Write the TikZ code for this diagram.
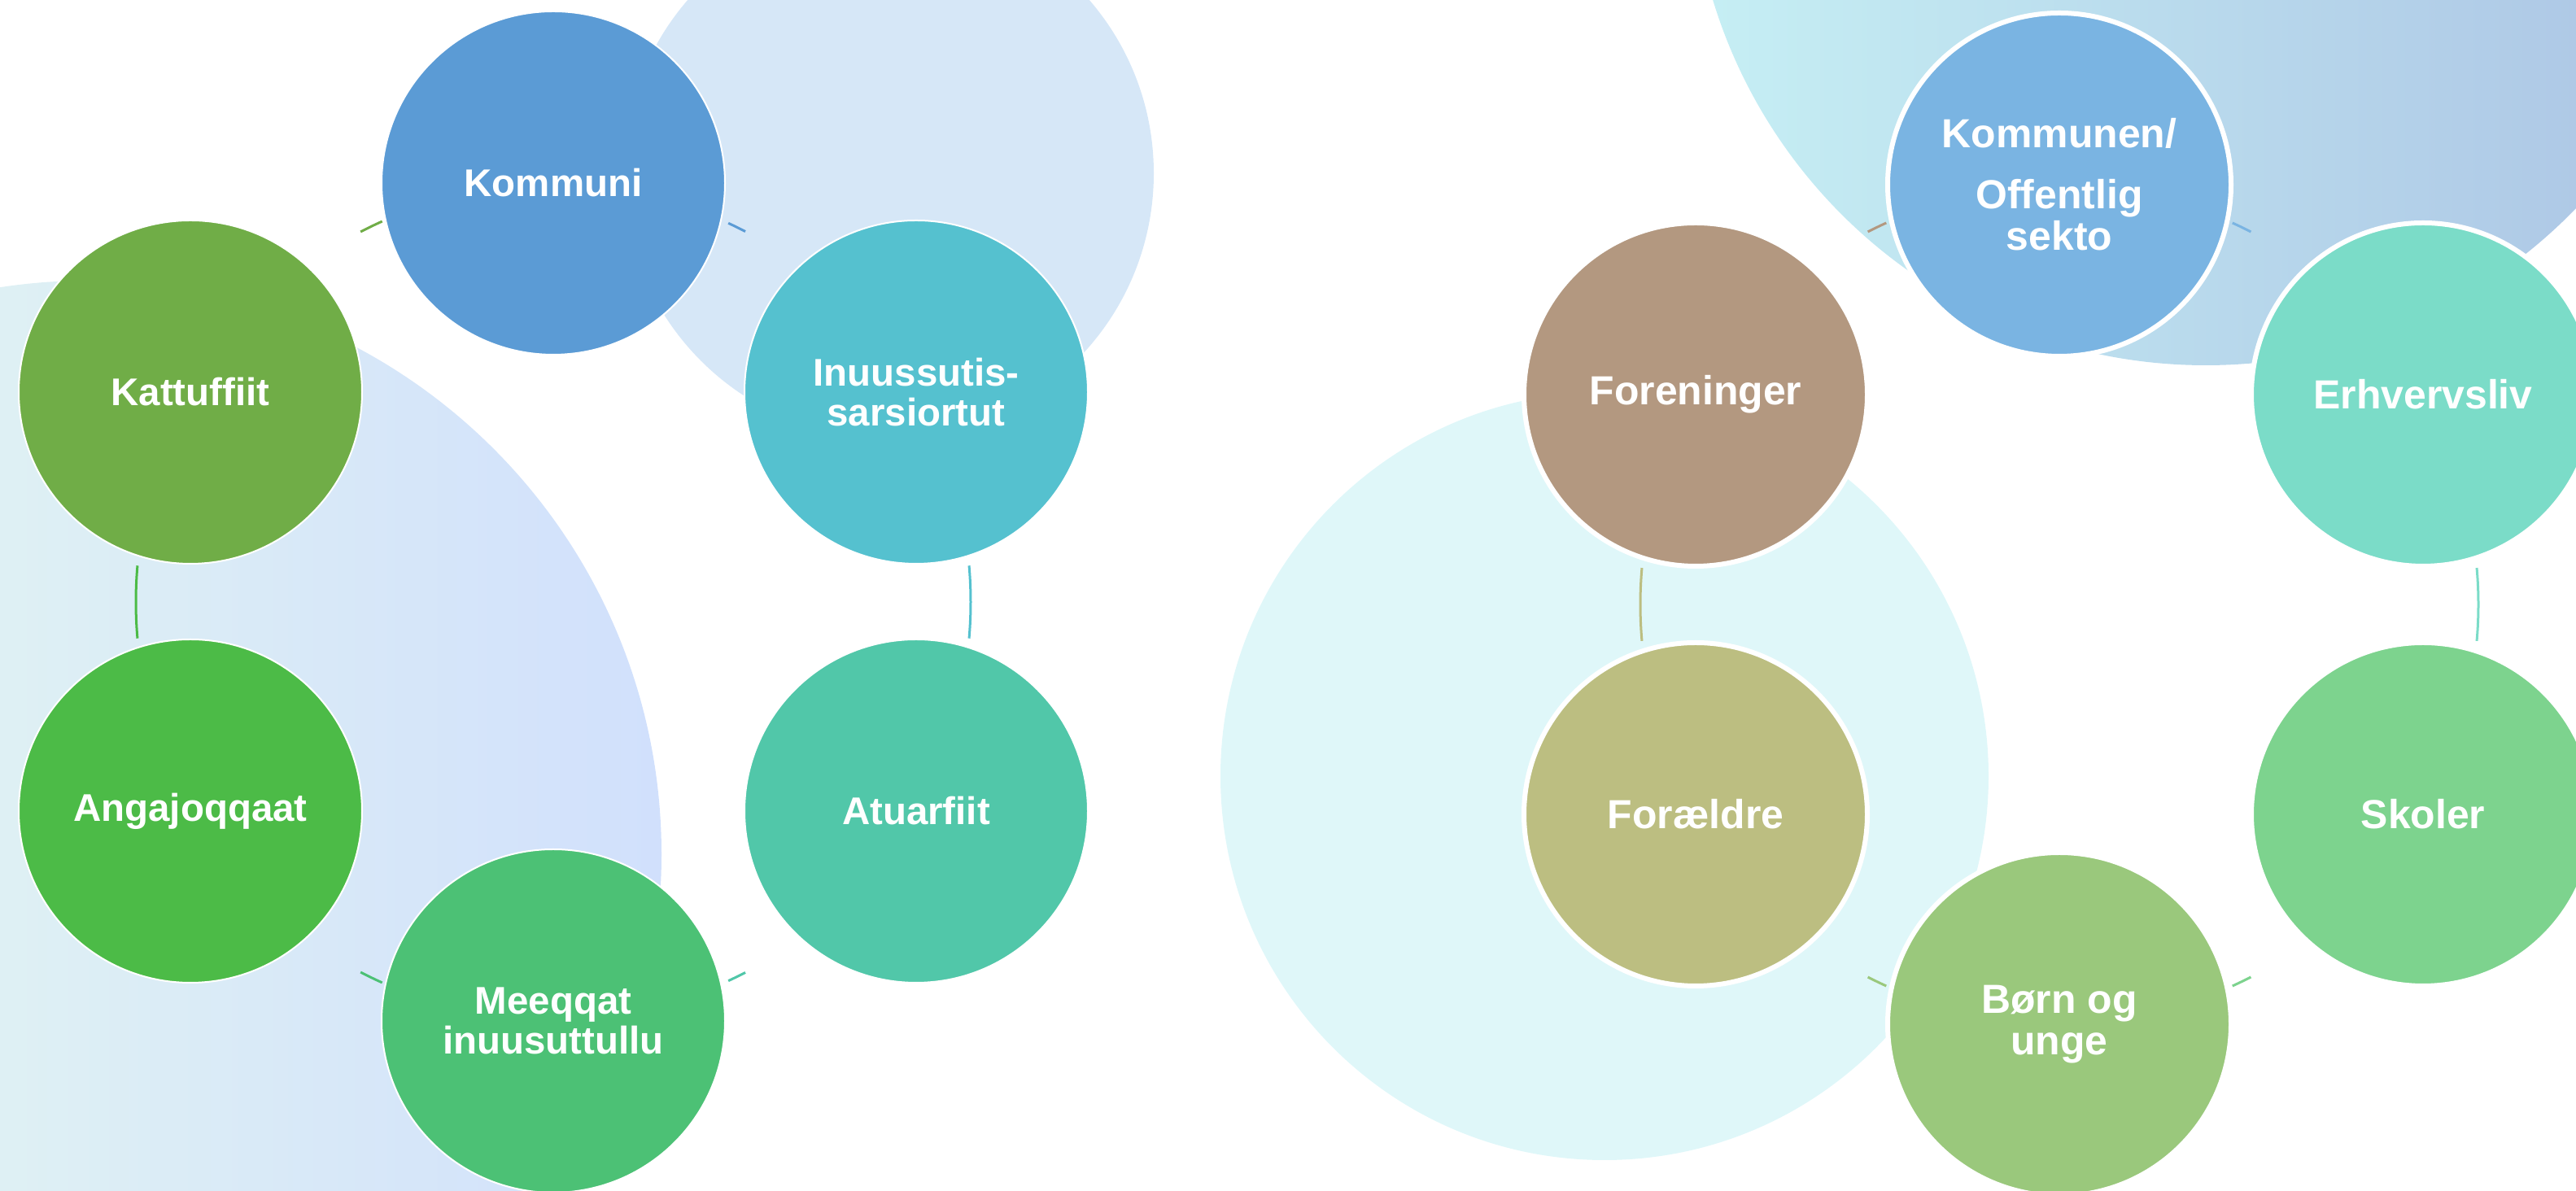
\documentclass[tikz,border=0pt]{standalone}
\usepackage{fontspec}
\setmainfont{Liberation Sans}
\usetikzlibrary{calc}

% bubble fills
\definecolor{kommuniC}{HTML}{5B9BD5}
\definecolor{inuusC}{HTML}{55C1CF}
\definecolor{atuarC}{HTML}{51C7A9}
\definecolor{meeqC}{HTML}{4CC175}
\definecolor{angajC}{HTML}{4CBB47}
\definecolor{kattC}{HTML}{70AD47}
\definecolor{kommunenC}{HTML}{7AB4E2}
\definecolor{erhvC}{HTML}{7BDCC8}
\definecolor{skolerC}{HTML}{7DD38E}
\definecolor{bornC}{HTML}{9AC87C}
\definecolor{foraeldreC}{HTML}{BCBE81}
\definecolor{forenC}{HTML}{B39880}
% background discs
\definecolor{leftTopBg}{HTML}{D6E7F7}
\definecolor{leftShadeA}{RGB}{232,252,238}
\definecolor{leftShadeB}{RGB}{209,224,252}
\definecolor{rightShadeA}{HTML}{C6EFF4}
\definecolor{rightShadeB}{RGB}{171,195,228}
\definecolor{rightBg}{HTML}{DFF7F9}

\begin{document}
\begin{tikzpicture}[
    bubble/.style={circle, draw=white, line width=0.02cm, minimum size=4.22cm, inner sep=0pt, align=center, text=white, font=\fontsize{13.5}{14}\selectfont\bfseries},
    bigbubble/.style={bubble, line width=0.06cm, font=\fontsize{14.2}{14.5}\selectfont\bfseries},
    link/.style={line width=0.03cm}
]
    \useasboundingbox (0,0) rectangle (31.66,14.64);
    \clip (0,0) rectangle (31.66,14.64);

    % ================= BACKGROUND DISCS =================
    \fill[leftTopBg] (10.92,12.51) circle (3.26);
    \shade[left color=leftShadeA, right color=leftShadeB] (1.08,4.14) circle (7.05);

    \shade[left color=rightShadeA, right color=rightShadeB] (27.11,16.48) circle (6.33);
    \fill[rightBg] (19.72,5.10) circle (4.72);

    % ring centres of the two cycles
    \coordinate (LeftRing) at (6.80,7.24);
    \coordinate (RightRing) at (25.31,7.21);

    % ================= CONNECTORS =================
    % left cycle
    \foreach \a/\b/\c in {117.5/114.2/kattC, 65.2/62.6/kommuniC, 5/-5/inuusC,
                          -62.6/-65.2/atuarC, -114.2/-117.5/meeqC, 185/175/angajC}
        \draw[link, draw=\c] ([shift={(\a:5.13)}]LeftRing) arc[start angle=\a, end angle=\b, radius=5.13];

    % right cycle
    \foreach \a/\b/\c in {117.2/114.4/forenC, 65.6/62.8/kommunenC, 5/-5/erhvC,
                          -62.8/-65.6/skolerC, -114.4/-117.2/bornC, 185/175/foraeldreC}
        \draw[link, draw=\c] ([shift={(\a:5.15)}]RightRing) arc[start angle=\a, end angle=\b, radius=5.15];

    % ================= LEFT CYCLE =================
    \node[bubble, fill=kommuniC] (Kommuni) at (6.80,12.39) {Kommuni};
    \node[bubble, fill=inuusC] (Inuus) at (11.26,9.82) {Inuussutis-\\sarsiortut};
    \node[bubble, fill=atuarC] (Atuarfiit) at (11.26,4.67) {Atuarfiit};
    \node[bubble, fill=meeqC] (Meeqqat) at (6.80,2.09) {Meeqqat\\inuusuttullu};
    \node[bubble, fill=angajC] (Angajoqqaat) at (2.34,4.67) {Angajoqqaat};
    \node[bubble, fill=kattC] (Kattuffiit) at (2.34,9.82) {Kattuffiit};

    % ================= RIGHT CYCLE =================
    \node[bigbubble, fill=kommunenC] (Kommunen) at (25.31,12.37) {Kommunen/\\[6.8pt]Offentlig\\sekto};
    \node[bigbubble, fill=erhvC] (Erhverv) at (29.78,9.79) {Erhvervsliv};
    \node[bigbubble, fill=skolerC] (Skoler) at (29.78,4.63) {Skoler};
    \node[bigbubble, fill=bornC] (Born) at (25.31,2.05) {Børn og\\unge};
    \node[bigbubble, fill=foraeldreC] (Foraeldre) at (20.84,4.63) {Forældre};
    \node[bigbubble, fill=forenC] (Foreninger) at (20.84,9.79) {Foreninger};

\end{tikzpicture}
\end{document}
